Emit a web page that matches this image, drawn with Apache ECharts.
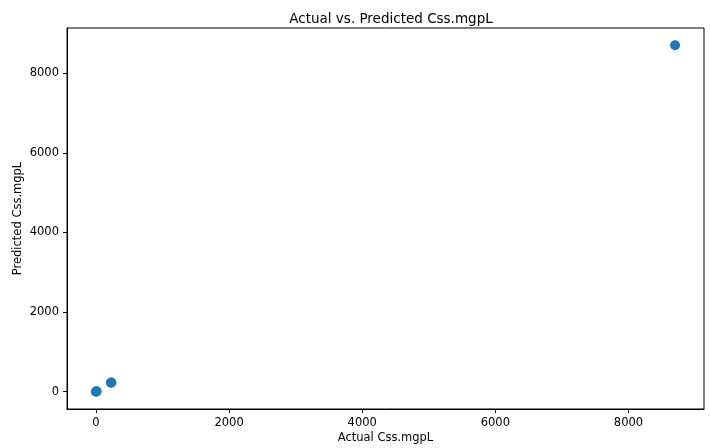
<!DOCTYPE html>
<html lang="en">
<head>
<meta charset="UTF-8">
<title>Actual vs. Predicted Css.mgpL</title>
<style>
  html, body { margin: 0; padding: 0; background: #fff; }
  #container { width: 710px; height: 448px; }
</style>
</head>
<body>
<div id="container"></div>
<script src="https://cdn.jsdelivr.net/npm/echarts@6/dist/echarts.min.js"></script>
<script>
// values
var actualVals = [0, 4, 10, 225, 232, 8700];
var predictedVals = [0, 5, 8, 226, 230, 8700];
var tickVals = [0, 2000, 4000, 6000, 8000];

var points = [];
for (var i = 0; i < actualVals.length; i++) {
  points.push([actualVals[i], predictedVals[i]]);
}

var font = 'DejaVu Sans';
var chart = echarts.init(document.getElementById('container'));

function axisCommon(name, gap) {
  return {
    type: 'value',
    min: -435,
    max: 9135,
    name: name,
    nameLocation: 'middle',
    nameGap: gap,
    nameMoveOverlap: false,
    nameTextStyle: { fontFamily: font, fontSize: 11.5, color: '#000' },
    axisLine: { show: true, onZero: false, lineStyle: { color: '#000', width: 1 } },
    axisTick: { show: true, length: 4, customValues: tickVals, lineStyle: { color: '#000' } },
    axisLabel: {
      customValues: tickVals, fontFamily: font, fontSize: 11.5, color: '#000', margin: 8,
      formatter: function (v) { return String(v); }
    },
    splitLine: { show: false }
  };
}

var option = {
  animation: false,
  title: {
    text: 'Actual vs. Predicted Css.mgpL',
    left: 386,
    textAlign: 'center',
    top: 7,
    textStyle: { fontFamily: font, fontSize: 13.5, fontWeight: 'normal', color: '#000' }
  },
  grid: {
    left: 67, right: 6, top: 28, bottom: 39,
    outerBoundsMode: 'none',
    show: true, borderColor: '#000', borderWidth: 1
  },
  xAxis: axisCommon('Actual Css.mgpL', 23),
  yAxis: axisCommon('Predicted Css.mgpL', 43),
  series: [{
    type: 'scatter',
    data: points,
    symbolSize: 10,
    itemStyle: { color: '#1f77b4', opacity: 1 }
  }]
};
chart.setOption(option);
</script>
</body>
</html>
